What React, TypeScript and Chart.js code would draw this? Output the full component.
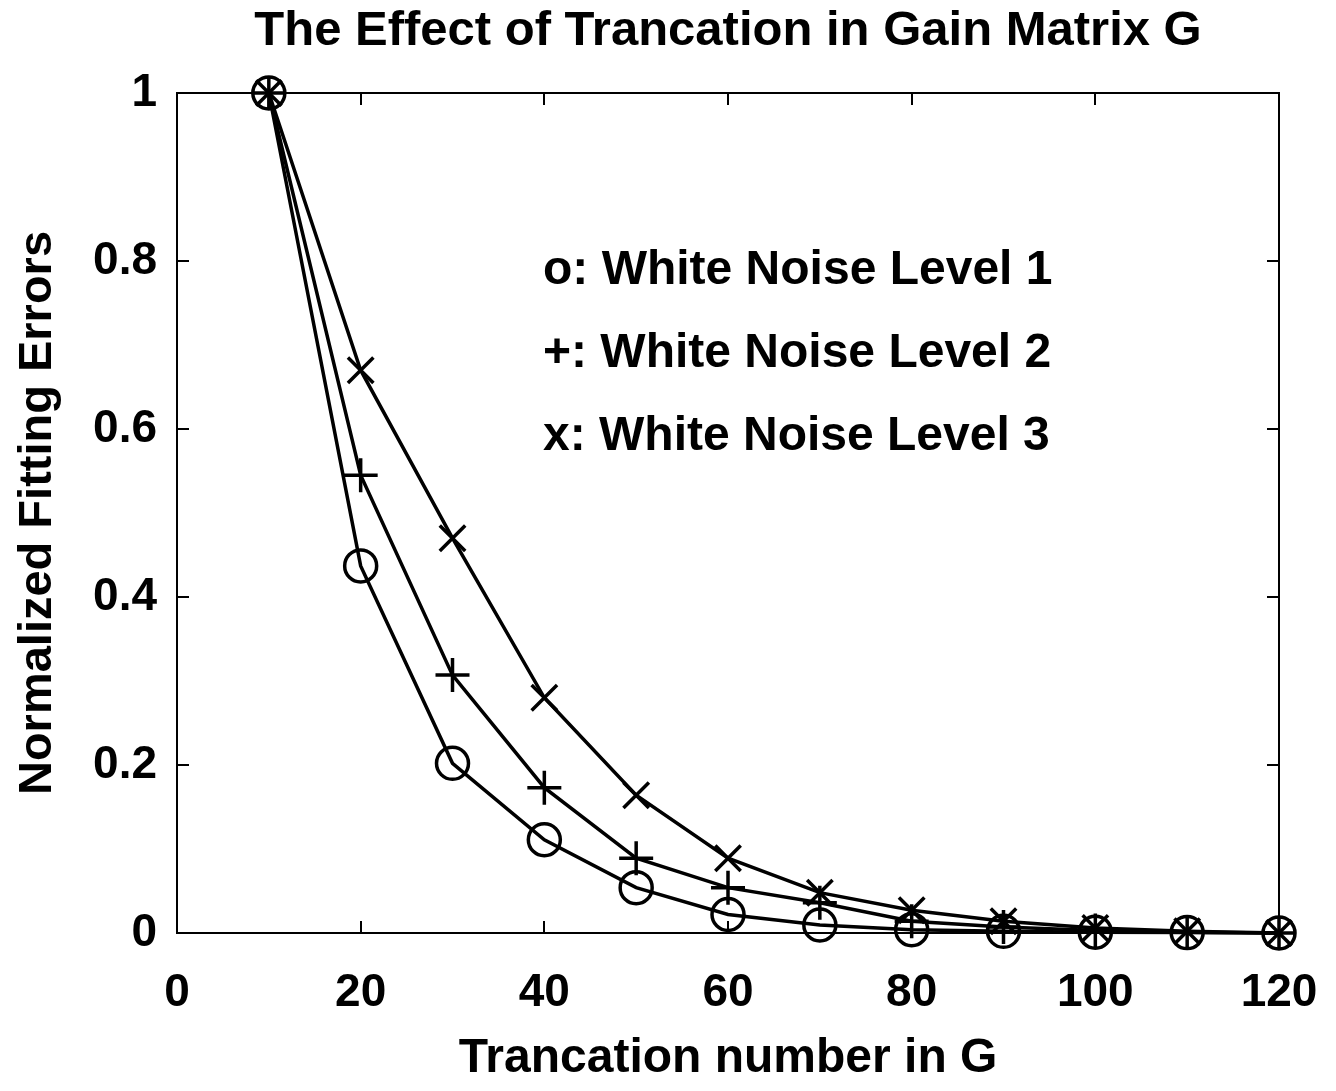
import React, { useEffect, useRef } from "react";
import { Chart, registerables } from "chart.js";

Chart.register(...registerables);

const truncationNumbers = [10, 20, 30, 40, 50, 60, 70, 80, 90, 100, 110, 120];
const noiseLevel1 = [1.0, 0.437, 0.202, 0.111, 0.054, 0.022, 0.0095, 0.004, 0.002, 0.001, 0.0005, 0];
const noiseLevel2 = [1.0, 0.545, 0.307, 0.173, 0.089, 0.054, 0.036, 0.014, 0.007, 0.003, 0.001, 0];
const noiseLevel3 = [1.0, 0.67, 0.47, 0.28, 0.164, 0.089, 0.048, 0.027, 0.014, 0.006, 0.002, 0];
const legendLines = ["o: White Noise Level 1", "+: White Noise Level 2", "x: White Noise Level 3"];
const chartTitle = "The Effect of Trancation in Gain Matrix G";
const xTitle = "Trancation number in G";
const yTitle = "Normalized Fitting Errors";

const FONT = "'Liberation Sans', Arial, Helvetica, sans-serif";

const framePlugin = {
  id: "frameTicks",
  beforeDatasetsDraw(chart: any) {
    const { ctx, chartArea, scales } = chart;
    const { left, right, top, bottom } = chartArea;
    ctx.save();
    ctx.strokeStyle = "#000";
    ctx.lineWidth = 2;
    ctx.strokeRect(left, top, right - left, bottom - top);
    const tl = 12;
    ctx.beginPath();
    scales.x.ticks.forEach((t: any) => {
      const px = Math.round(scales.x.getPixelForValue(t.value));
      ctx.moveTo(px, bottom);
      ctx.lineTo(px, bottom - tl);
      ctx.moveTo(px, top);
      ctx.lineTo(px, top + tl);
    });
    scales.y.ticks.forEach((t: any) => {
      const py = Math.round(scales.y.getPixelForValue(t.value));
      ctx.moveTo(left, py);
      ctx.lineTo(left + tl, py);
      ctx.moveTo(right, py);
      ctx.lineTo(right - tl, py);
    });
    ctx.stroke();
    // title centred over the plot box
    ctx.fillStyle = "#000";
    ctx.font = `bold 49px ${FONT}`;
    ctx.textAlign = "center";
    ctx.textBaseline = "middle";
    ctx.fillText(chartTitle, (left + right) / 2, 31);
    ctx.restore();
  },
  afterDatasetsDraw(chart: any) {
    const { ctx, chartArea } = chart;
    ctx.save();
    ctx.fillStyle = "#000";
    ctx.font = `bold 48px ${FONT}`;
    ctx.textAlign = "left";
    ctx.textBaseline = "middle";
    const x0 = chartArea.left + 366;
    const y0 = chartArea.top + 178;
    legendLines.forEach((s, i) => {
      ctx.fillText(s, x0, y0 + i * 83);
    });
    ctx.restore();
  },
};

export default function App() {
  const ref = useRef<HTMLCanvasElement | null>(null);
  useEffect(() => {
    document.body.style.margin = "0";
    const canvas = ref.current!;
    const common = {
      borderColor: "#000",
      pointBorderColor: "#000",
      pointBackgroundColor: "rgba(0,0,0,0)",
      borderWidth: 3.5,
      pointBorderWidth: 3.5,
      pointRadius: 16,
      pointHoverRadius: 16,
      tension: 0,
      fill: false,
      clip: false as any,
    };
    const chart = new Chart(canvas, {
      type: "line",
      data: {
        labels: truncationNumbers,
        datasets: [
          { ...common, label: "Level 1", data: truncationNumbers.map((x, i) => ({ x, y: noiseLevel1[i] })), pointStyle: "circle" },
          { ...common, label: "Level 2", data: truncationNumbers.map((x, i) => ({ x, y: noiseLevel2[i] })), pointStyle: "cross", pointRadius: 17 },
          { ...common, label: "Level 3", data: truncationNumbers.map((x, i) => ({ x, y: noiseLevel3[i] })), pointStyle: "crossRot", pointRadius: 18 },
        ],
      },
      options: {
        animation: false,
        responsive: false,
        maintainAspectRatio: false,
        layout: { padding: { left: 0, right: 57, top: 93, bottom: 0 } },
        plugins: {
          legend: { display: false },
          tooltip: { enabled: false },
          title: { display: false },
        },
        scales: {
          x: {
            type: "linear",
            min: 0,
            max: 120,
            ticks: { stepSize: 20, color: "#000", font: { family: FONT, size: 46, weight: "bold" }, padding: 33, maxRotation: 0 },
            grid: { display: false, drawTicks: false },
            border: { display: false },
            title: { display: true, text: xTitle, color: "#000", font: { family: FONT, size: 48, weight: "bold" }, padding: { top: 0, bottom: 3 } },
            afterFit: (s: any) => {
              s.height = 158;
              s.paddingLeft = 0;
              s.paddingRight = 0;
            },
          },
          y: {
            type: "linear",
            min: 0,
            max: 1,
            ticks: {
              stepSize: 0.2,
              color: "#000",
              font: { family: FONT, size: 46, weight: "bold" },
              padding: 20,
              callback: (v: any) => String(Number(Number(v).toFixed(1))),
            },
            grid: { display: false, drawTicks: false },
            border: { display: false },
            title: { display: true, text: yTitle, color: "#000", font: { family: FONT, size: 47, weight: "bold" }, padding: { top: 10, bottom: 0 } },
            afterFit: (s: any) => {
              s.width = 177;
              s.paddingTop = 0;
              s.paddingBottom = 0;
            },
          },
        },
      },
      plugins: [framePlugin],
    });
    return () => chart.destroy();
  }, []);
  return (
    <div style={{ width: 1336, height: 1091, background: "#fff" }}>
      <canvas ref={ref} width={1336} height={1091} style={{ display: "block" }} />
    </div>
  );
}
